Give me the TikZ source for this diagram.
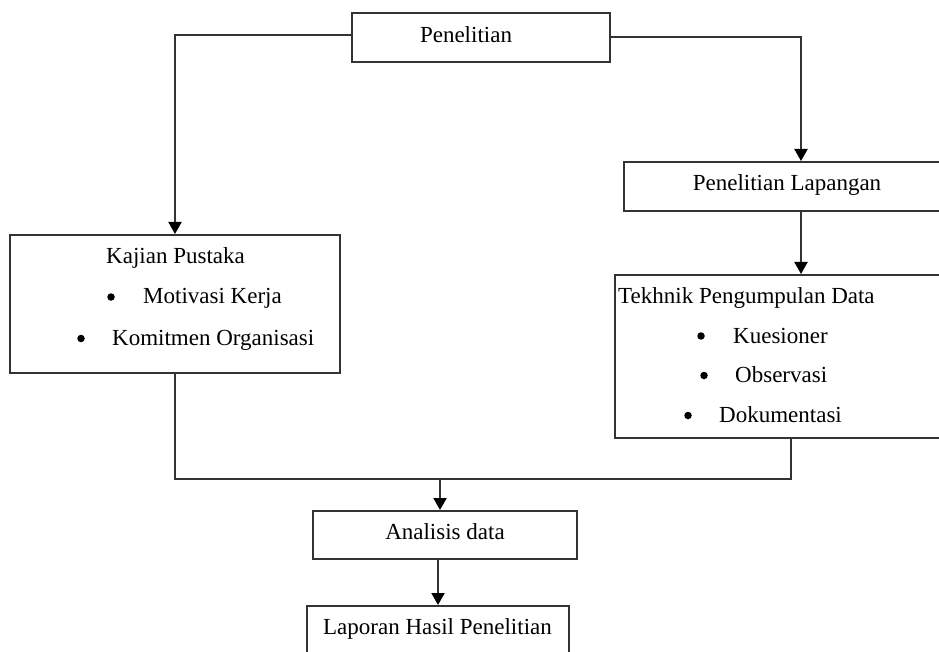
\documentclass[tikz,border=0pt]{standalone}
\usepackage{fontspec}
\setmainfont{Liberation Serif}
\usetikzlibrary{arrows.meta}
\definecolor{ln}{HTML}{333333}
\begin{document}
\begin{tikzpicture}[x=1pt,y=-1pt,
  box/.style={draw=ln,line width=2pt,rectangle,inner sep=0pt,fill=white},
  txt/.style={inner sep=0pt,anchor=base west,font=\fontsize{23}{27}\selectfont},
  ctxt/.style={inner sep=0pt,anchor=base,font=\fontsize{23}{27}\selectfont},
  dot/.style={circle,fill=black,inner sep=0pt,minimum size=7.5pt},
  conn/.style={draw=ln,line width=2pt},
  arr/.style={conn,-{Triangle[width=13pt,length=12pt,color=black]}}]
\useasboundingbox[fill=white] (0,0) rectangle (939,652);
\clip (0,0) rectangle (939,652);
% boxes
\node[box,minimum width=258pt,minimum height=49pt] (pen) at (481,37.5) {};
\node[box,minimum width=354pt,minimum height=49pt] (lap) at (801,186.5) {};
\node[box,minimum width=330pt,minimum height=138pt] (kaj) at (175,304) {};
\node[box,minimum width=352pt,minimum height=163pt] (tek) at (791,356.5) {};
\node[box,minimum width=264pt,minimum height=48pt] (ana) at (445,535) {};
\node[box,minimum width=262pt,minimum height=70pt] (lapr) at (438,641) {};
% texts
\node[ctxt] (tpen) at (466,43) {Penelitian};
\node[ctxt] (tlap) at (787,191) {Penelitian Lapangan};
\node[txt] (tkaj) at (106,264) {Kajian Pustaka};
\node[dot] (bk1) at (111,297) {};
\node[txt] (tk1) at (143,303) {Motivasi Kerja};
\node[dot] (bk2) at (81,338.5) {};
\node[txt] (tk2) at (112,345) {Komitmen Organisasi};
\node[txt] (ttek) at (618,303) {Tekhnik Pengumpulan Data};
\node[dot] (bt1) at (701,336) {};
\node[txt] (tt1) at (733,343) {Kuesioner};
\node[dot] (bt2) at (704,375.5) {};
\node[txt] (tt2) at (735,382) {Observasi};
\node[dot] (bt3) at (688,415.5) {};
\node[txt] (tt3) at (719,422) {Dokumentasi};
\node[ctxt] (tana) at (445,539) {Analisis data};
\node[ctxt] (tlapr) at (437.5,634) {Laporan Hasil Penelitian};
% connectors
\coordinate (jn) at (440,479);
\draw[arr] ([yshift=2.5pt]pen.west) -| (kaj.north);
\draw[arr] ([yshift=0.5pt]pen.east) -| (lap.north);
\draw[arr] (lap.south) -- (lap.south |- tek.north);
\draw[conn] (kaj.south) -- (kaj.south |- jn) -- (tek.south |- jn) -- (tek.south);
\draw[arr] (jn) -- (jn |- ana.north);
\draw[arr] (ana.south -| 438,0) -- (438,0 |- lapr.north);
\end{tikzpicture}
\end{document}
